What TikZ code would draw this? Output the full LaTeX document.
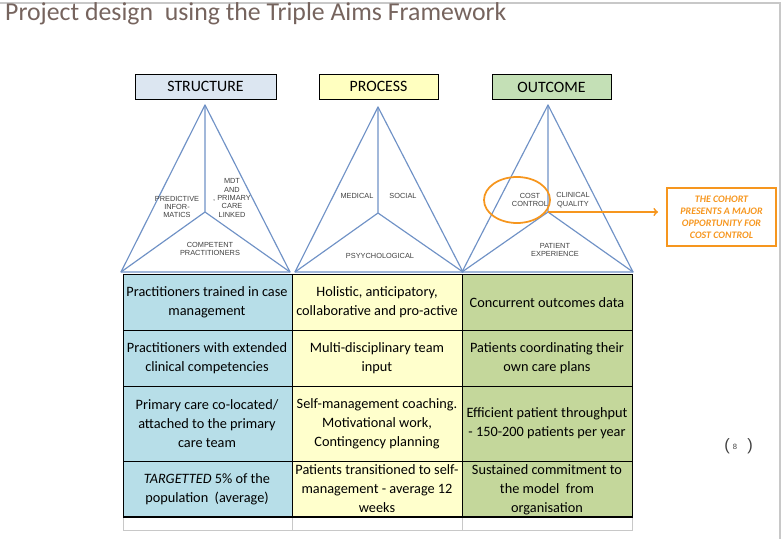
\documentclass[tikz,border=0pt]{standalone}
\usepackage{fontspec}
\setmainfont{Carlito}
\newfontfamily\arialfont{Liberation Sans}
\usepackage{tikz}
\usetikzlibrary{shapes.geometric}
\usepackage{xcolor}
\definecolor{titlegray}{RGB}{118,100,94}
\definecolor{framegray}{RGB}{200,200,200}
\definecolor{structblue}{RGB}{220,230,241}
\definecolor{processyellow}{RGB}{255,255,192}
\definecolor{outcomegreen}{RGB}{196,224,182}
\definecolor{triblue}{RGB}{112,146,198}
\definecolor{taggray}{RGB}{64,64,64}
\definecolor{calloutorange}{RGB}{246,150,30}
\definecolor{cellblue}{RGB}{183,222,232}
\definecolor{cellyellow}{RGB}{255,255,204}
\definecolor{cellgreen}{RGB}{196,215,155}

\begin{document}
\begin{tikzpicture}[x=0.03cm, y=-0.03cm,
    header/.style={draw, thick, minimum height=0.75cm, inner sep=0, font=\fontsize{13.5}{15}\selectfont},
    tri/.style={draw=triblue, line width=1pt, line join=round},
    tag/.style={align=center, inner sep=0, text=taggray, font=\arialfont\fontsize{6.3}{7.2}\selectfont},
    cell/.style={align=center, inner sep=0, font=\fontsize{12.2}{16.2}\selectfont}]
    \useasboundingbox (0,0) rectangle (781,539);

    % Frame and title
    \draw[framegray, line width=1pt] (0,3) -- (780,3) -- (780,539);
    \node[anchor=base west, inner sep=0, text=titlegray, font=\fontsize{22}{26}\selectfont] (title) at (5,21) {Project design~ using the Triple Aims Framework};

    % Headers
    \node[header, fill=structblue, minimum width=4.23cm] (structure) at (205.5,86.5) {STRUCTURE};
    \node[header, fill=processyellow, minimum width=3.57cm] (process) at (378.5,86.5) {PROCESS};
    \node[header, fill=outcomegreen, minimum width=3.57cm] (outcome) at (551.5,87) {OUTCOME};

    % Structure triangle
    \coordinate (s-top) at (205,105);
    \coordinate (s-mid) at (205,212);
    \coordinate (s-left) at (121,272);
    \coordinate (s-right) at (290,272);
    \draw[tri] (s-top) -- (s-left) -- (s-right) -- cycle;
    \draw[tri] (s-top) -- (s-mid) (s-left) -- (s-mid) -- (s-right);
    \node[tag] (predictive) at (177,207) {PREDICTIVE\\INFOR-\\MATICS};
    \node[tag] (mdt) at (232,198) {MDT\\AND\\, PRIMARY\\CARE\\LINKED};
    \node[tag] (competent) at (210,249) {COMPETENT\\PRACTITIONERS};

    % Process triangle
    \coordinate (p-top) at (378,107);
    \coordinate (p-mid) at (378,213);
    \coordinate (p-left) at (295,272);
    \coordinate (p-right) at (463,272);
    \draw[tri] (p-top) -- (p-left) -- (p-right) -- cycle;
    \draw[tri] (p-top) -- (p-mid) (p-left) -- (p-mid) -- (p-right);
    \node[tag] (medical) at (357,196) {MEDICAL};
    \node[tag] (social) at (403,196) {SOCIAL};
    \node[tag] (psycho) at (380,256) {PSYYCHOLOGICAL};

    % Outcome triangle
    \coordinate (o-top) at (548,105);
    \coordinate (o-mid) at (548,212);
    \coordinate (o-left) at (462,272);
    \coordinate (o-right) at (633,272);
    \draw[tri] (o-top) -- (o-left) -- (o-right) -- cycle;
    \draw[tri] (o-top) -- (o-mid) (o-left) -- (o-mid) -- (o-right);
    \node[tag] (cost) at (530,200) {COST\\CONTROL};
    \node[tag] (clinical) at (573,200) {CLINICAL\\QUALITY};
    \node[tag] (experience) at (555,250) {PATIENT\\EXPERIENCE};

    % Cost control callout
    \node[ellipse, draw=calloutorange, line width=1.5pt, minimum width=1.98cm, minimum height=1.38cm] (costring) at (517,200) {};
    \node[draw=calloutorange, line width=1.5pt, minimum width=3.27cm, minimum height=1.74cm, align=center, text=calloutorange, font=\bfseries\itshape\fontsize{8.5}{10.2}\selectfont] (cohort) at (721.5,217) {THE COHORT\\PRESENTS A MAJOR\\OPPORTUNITY FOR\\COST CONTROL};
    \coordinate (arrowtip) at (658,212);
    \draw[->, calloutorange, line width=1.5pt] (o-mid) -- (arrowtip);

    % Table
    \fill[cellblue] (123,274) rectangle (292,517);
    \fill[cellyellow] (292,274) rectangle (462,517);
    \fill[cellgreen] (462,274) rectangle (632,517);
    \draw[framegray] (123,517) -- (123,530) -- (632,530) -- (632,517);
    \draw[framegray] (292,517) -- (292,530);
    \draw[framegray] (462,517) -- (462,530);
    \draw (123,274) rectangle (632,517);
    \draw (292,274) -- (292,517);
    \draw (462,274) -- (462,517);
    \draw (123,330) -- (632,330);
    \draw (123,386) -- (632,386);
    \draw (123,461) -- (632,461);
    \draw[line width=1.8pt] (123,517) -- (632,517);

    \node[cell] (c11) at (207,302) {Practitioners trained in case\\management};
    \node[cell] (c12) at (377,302) {Holistic, anticipatory,\\collaborative and pro-active};
    \node[cell] (c13) at (547,303) {Concurrent outcomes data};
    \node[cell] (c21) at (207,358) {Practitioners with extended\\clinical competencies};
    \node[cell] (c22) at (377,358) {Multi-disciplinary team\\input};
    \node[cell] (c23) at (547,358) {Patients coordinating their\\own care plans};
    \node[cell] (c31) at (207,423.5) {Primary care co-located/\\attached to the primary\\care team};
    \node[cell] (c32) at (377,423.5) {Self-management coaching.\\Motivational work,\\Contingency planning};
    \node[cell] (c33) at (547,423.5) {Efficient patient throughput\\- 150-200 patients per year};
    \node[cell] (c41) at (207,489) {\textit{TARGETTED} 5\% of the\\population~ (average)};
    \node[cell] (c42) at (377,489) {Patients transitioned to self-\\management - average 12\\weeks};
    \node[cell] (c43) at (547,490) {Sustained commitment to\\the model~ from\\organisation};

    % Page number
    \node[inner sep=0, text=taggray, font=\arialfont\fontsize{6.5}{7}\selectfont] (pagenum) at (735,447) {8};
    \node[inner sep=0, text=taggray, font=\arialfont\fontsize{14}{16}\selectfont] (lparen) at (727,446) {(};
    \node[inner sep=0, text=taggray, font=\arialfont\fontsize{14}{16}\selectfont] (rparen) at (750,446) {)};
\end{tikzpicture}
\end{document}
